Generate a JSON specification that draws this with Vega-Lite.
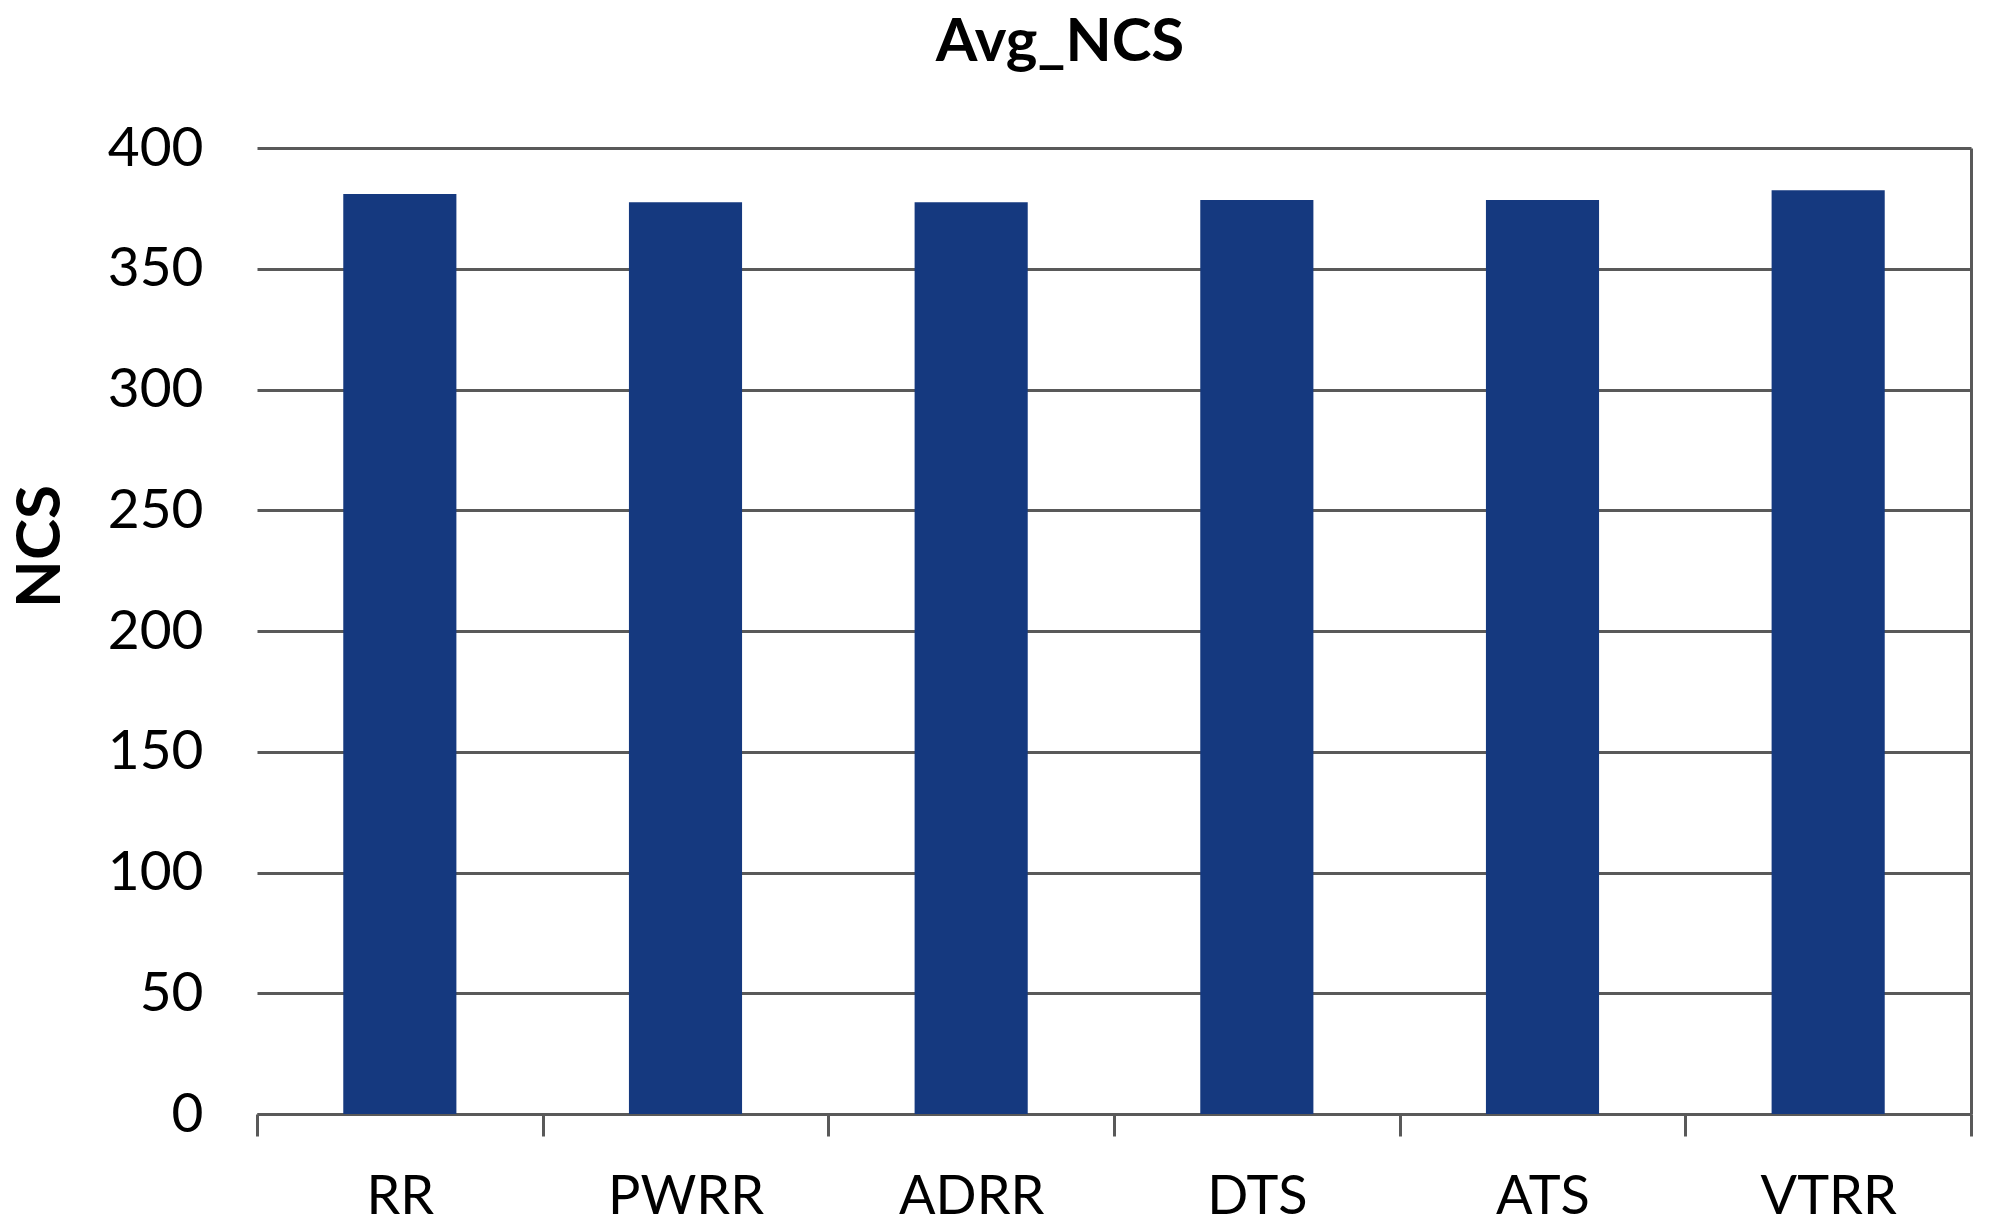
{
  "$schema": "https://vega.github.io/schema/vega-lite/v6.json",
  "autosize": {"type": "none"},
  "padding": {"left": 257, "top": 148, "right": 29, "bottom": 110},
  "width": 1714,
  "height": 966,
  "background": "white",
  "config": {"view": {"stroke": null}, "font": "Lato"},
  "title": {
    "text": "Avg_NCS",
    "font": "Lato",
    "fontSize": 60,
    "fontWeight": "bold",
    "color": "black",
    "anchor": "middle",
    "frame": "group",
    "baseline": "alphabetic",
    "offset": 0,
    "dx": -54
  },
  "data": {
    "values": [
      {"method": "RR", "NCS": 381},
      {"method": "PWRR", "NCS": 377.5},
      {"method": "ADRR", "NCS": 377.5},
      {"method": "DTS", "NCS": 378.5},
      {"method": "ATS", "NCS": 378.5},
      {"method": "VTRR", "NCS": 382.5}
    ]
  },
  "mark": {"type": "bar", "color": "#15397F", "width": {"band": 0.396}},
  "encoding": {
    "x": {
      "field": "method",
      "type": "nominal",
      "sort": null,
      "scale": {"paddingInner": 0, "paddingOuter": 0},
      "axis": {
        "title": null,
        "labelAngle": 0,
        "labelFont": "Lato",
        "labelFontSize": 54,
        "labelColor": "black",
        "labelBaseline": "alphabetic",
        "labelPadding": 77,
        "tickBand": "extent",
        "ticks": true,
        "tickSize": 22,
        "tickWidth": 3,
        "tickColor": "#595959",
        "domain": true,
        "domainColor": "#595959",
        "domainWidth": 3,
        "grid": true,
        "gridWidth": 3,
        "gridColor": {"condition": {"test": "datum.value === 'VTRR'", "value": "#595959"}, "value": "transparent"}
      }
    },
    "y": {
      "field": "NCS",
      "type": "quantitative",
      "scale": {"domain": [0, 400], "nice": false},
      "axis": {
        "title": "NCS",
        "titleFont": "Lato",
        "titleFontSize": 62,
        "titleFontWeight": "bold",
        "titleColor": "black",
        "titleAngle": -90,
        "titleBaseline": "alphabetic",
        "titleAnchor": "middle",
        "titleX": -198,
        "titleY": 398,
        "values": [0, 50, 100, 150, 200, 250, 300, 350, 400],
        "labelFont": "Lato",
        "labelFontSize": 55,
        "labelColor": "black",
        "labelPadding": 54,
        "ticks": false,
        "domain": false,
        "grid": true,
        "gridColor": "#595959",
        "gridWidth": 3
      }
    }
  }
}
